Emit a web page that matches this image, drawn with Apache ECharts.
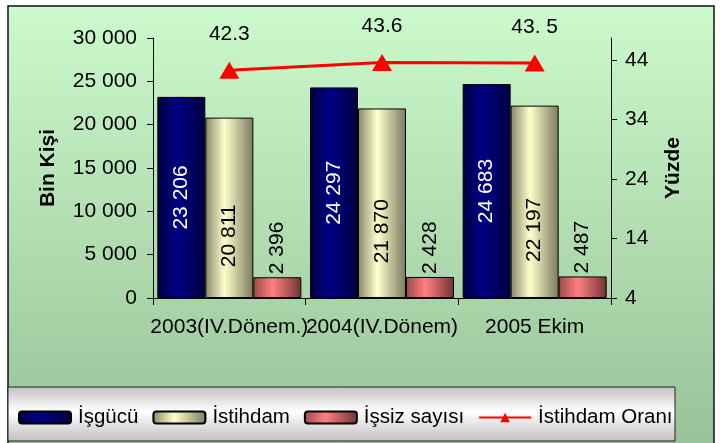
<!DOCTYPE html>
<html><head><meta charset="utf-8">
<script src="https://cdn.jsdelivr.net/npm/echarts@6/dist/echarts.min.js"></script>
<style>html,body{margin:0;padding:0;background:#fff}#c{width:720px;height:443px}</style>
</head><body><div id="c"></div>
<script>
var categories = ['2003(IV.Dönem.)', '2004(IV.Dönem)', '2005 Ekim'];
var isgucu = [23206, 24297, 24683];
var istihdam = [20811, 21870, 22197];
var issiz = [2396, 2428, 2487];
var oran = [42.3, 43.6, 43.5];
var oranLabels = ['42.3', '43.6', '43. 5'];
var rightTicks = [4, 14, 24, 34, 44];
var seriesNames = ['İşgücü', 'İstihdam', 'İşsiz sayısı', 'İstihdam Oranı'];

function fmt(v) { return String(v).replace(/\B(?=(\d{3})+(?!\d))/g, ' '); }
function hgrad(edge, mid, edge2) {
  return new echarts.graphic.LinearGradient(0, 0, 1, 0, [
    {offset: 0, color: edge}, {offset: 0.4, color: mid}, {offset: 1, color: edge2 || edge}
  ]);
}
var FONT = '"Liberation Sans", Arial, sans-serif';
var FS = 21;
var chart = echarts.init(document.getElementById('c'), null, {renderer: 'canvas'});
chart.setOption({
  animation: false,
  textStyle: {fontFamily: FONT},
  graphic: [
    {type: 'rect', z: -10, silent: true, shape: {x: 8, y: 6, width: 706, height: 440},
     style: {fill: new echarts.graphic.LinearGradient(0, 0, 0, 1, [
       {offset: 0, color: '#ccfacc'}, {offset: 1, color: '#98c298'}]),
       stroke: '#111', lineWidth: 1.5}},
    {type: 'rect', z: -9, silent: true, shape: {x: 8, y: 387, width: 667, height: 54},
     style: {fill: new echarts.graphic.LinearGradient(0, 0, 0, 1, [
       {offset: 0, color: '#c0c0c0'}, {offset: 0.45, color: '#ffffff'}, {offset: 1, color: '#c0c0c0'}]),
       stroke: '#222', lineWidth: 1}}
  ],
  grid: {left: 153, right: 109, top: 38, bottom: 145, containLabel: false},
  legend: {
    data: seriesNames, left: 13, top: 402, itemWidth: 52, itemHeight: 12, itemGap: 14,
    textStyle: {fontFamily: FONT, fontSize: 20.5, color: '#000', padding: [0, 0, 0, 2]}
  },
  xAxis: {
    type: 'category', data: categories,
    axisLine: {lineStyle: {color: '#000', width: 1}},
    axisTick: {show: true, length: 7, lineStyle: {color: '#000'}},
    axisLabel: {interval: 0, color: '#000', fontSize: FS, fontFamily: FONT, margin: 19}
  },
  yAxis: [
    {type: 'value', min: 0, max: 30000, interval: 5000, name: 'Bin Kişi',
     nameLocation: 'middle', nameRotate: 90, nameGap: 94,
     nameTextStyle: {fontWeight: 'bold', fontSize: FS, color: '#000', fontFamily: FONT},
     axisLine: {show: true, lineStyle: {color: '#000'}},
     axisTick: {show: true, length: 6, lineStyle: {color: '#000'}},
     splitLine: {show: false},
     axisLabel: {color: '#000', fontSize: FS, fontFamily: FONT, margin: 16, formatter: fmt}},
    {type: 'value', min: 4, max: 47.7, interval: 10, name: 'Yüzde', position: 'right',
     nameLocation: 'middle', nameRotate: 90, nameGap: 52,
     nameTextStyle: {fontWeight: 'bold', fontSize: FS, color: '#000', fontFamily: FONT},
     axisLine: {show: true, lineStyle: {color: '#000'}},
     axisTick: {show: true, length: 6, customValues: rightTicks, lineStyle: {color: '#000'}},
     splitLine: {show: false},
     axisLabel: {color: '#000', fontSize: FS, fontFamily: FONT, margin: 14, customValues: rightTicks,
       formatter: function (v) { return rightTicks.indexOf(v) >= 0 ? String(v) : ''; }}}
  ],
  series: [
    {name: seriesNames[0], type: 'bar', data: isgucu, barWidth: 48, barGap: '0%',
     itemStyle: {color: hgrad('#000040', '#000085'), borderColor: '#000', borderWidth: 1},
     label: {show: true, position: 'inside', rotate: 90, color: '#fff', fontSize: FS,
       fontFamily: FONT, formatter: function (p) { return fmt(p.value); }}},
    {name: seriesNames[1], type: 'bar', data: istihdam, barWidth: 48,
     itemStyle: {color: hgrad('#86866a', '#ffffcc', '#7a7a60'), borderColor: '#000', borderWidth: 1},
     label: {show: true, position: 'inside', rotate: 90, color: '#000', fontSize: FS, offset: [-28, 0],
       fontFamily: FONT, formatter: function (p) { return fmt(p.value); }}},
    {name: seriesNames[2], type: 'bar', data: issiz, barWidth: 48,
     itemStyle: {color: hgrad('#9a4a4a', '#ff8080', '#703434'), borderColor: '#000', borderWidth: 1},
     label: {show: true, position: 'top', rotate: 90, align: 'left', verticalAlign: 'middle',
       distance: 3, color: '#000', fontSize: FS, fontFamily: FONT,
       formatter: function (p) { return fmt(p.value); }}},
    {name: seriesNames[3], type: 'line', yAxisIndex: 1, data: oran,
     lineStyle: {color: '#ff0000', width: 3}, itemStyle: {color: '#ff0000'},
     symbol: 'triangle', symbolSize: [20, 17],
     label: {show: true, position: 'top', distance: 17, color: '#000', fontSize: FS, fontFamily: FONT,
       formatter: function (p) { return oranLabels[p.dataIndex]; }}}
  ]
});
</script></body></html>
